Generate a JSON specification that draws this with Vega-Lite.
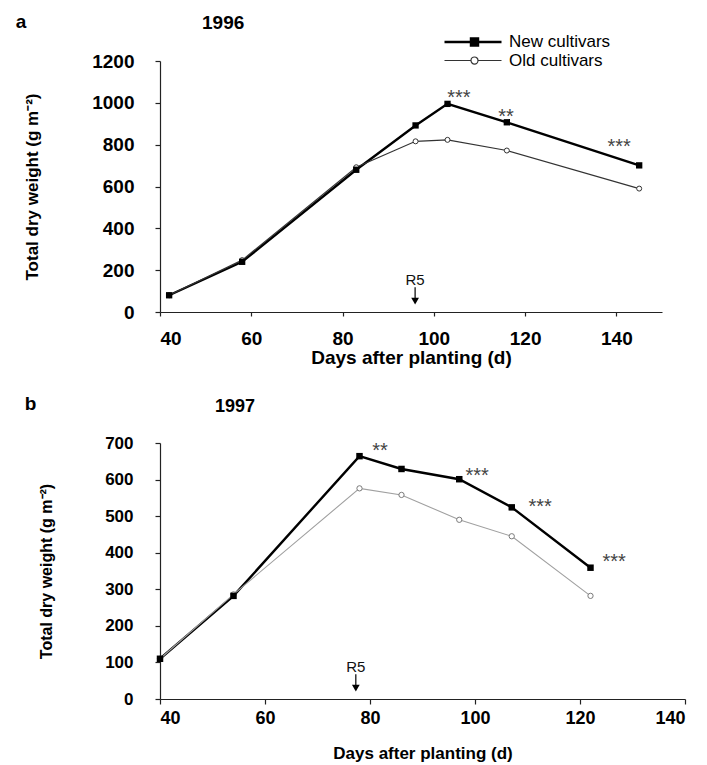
{
  "$schema": "https://vega.github.io/schema/vega-lite/v6.json",
  "padding": {"left": 15, "top": 13, "right": 10, "bottom": 2},
  "spacing": 28,
  "datasets": {
    "a": [
      {"series": "New cultivars", "day": 42, "value": 80},
      {"series": "New cultivars", "day": 58, "value": 240},
      {"series": "New cultivars", "day": 83, "value": 680},
      {"series": "New cultivars", "day": 96, "value": 892},
      {"series": "New cultivars", "day": 103, "value": 995},
      {"series": "New cultivars", "day": 116, "value": 907},
      {"series": "New cultivars", "day": 145, "value": 701},
      {"series": "Old cultivars", "day": 42, "value": 80},
      {"series": "Old cultivars", "day": 58, "value": 248},
      {"series": "Old cultivars", "day": 83, "value": 692},
      {"series": "Old cultivars", "day": 96, "value": 816},
      {"series": "Old cultivars", "day": 103, "value": 823},
      {"series": "Old cultivars", "day": 116, "value": 772},
      {"series": "Old cultivars", "day": 145, "value": 590}
    ],
    "b": [
      {"series": "New cultivars", "day": 40, "value": 110},
      {"series": "New cultivars", "day": 54, "value": 282},
      {"series": "New cultivars", "day": 78, "value": 664},
      {"series": "New cultivars", "day": 86, "value": 629},
      {"series": "New cultivars", "day": 97, "value": 601},
      {"series": "New cultivars", "day": 107, "value": 524},
      {"series": "New cultivars", "day": 122, "value": 359},
      {"series": "Old cultivars", "day": 40, "value": 110},
      {"series": "Old cultivars", "day": 54, "value": 286},
      {"series": "Old cultivars", "day": 78, "value": 576},
      {"series": "Old cultivars", "day": 86, "value": 558},
      {"series": "Old cultivars", "day": 97, "value": 490},
      {"series": "Old cultivars", "day": 107, "value": 445},
      {"series": "Old cultivars", "day": 122, "value": 282}
    ],
    "stars_a": [
      {"day": 105.5, "value": 1045, "label": "***"},
      {"day": 115.8, "value": 955, "label": "**"},
      {"day": 140.6, "value": 812, "label": "***"}
    ],
    "stars_b": [
      {"day": 81.9, "value": 692, "label": "**"},
      {"day": 100.4, "value": 623, "label": "***"},
      {"day": 112.4, "value": 539, "label": "***"},
      {"day": 126.5, "value": 388, "label": "***"}
    ],
    "r5_a": [
      {"part": "rule", "day": 95.9, "value": 118, "value2": 58},
      {"part": "tip", "day": 95.9, "value": 52},
      {"part": "label", "day": 95.9, "value": 152, "label": "R5"}
    ],
    "r5_b": [
      {"part": "rule", "day": 77.3, "value": 68, "value2": 34},
      {"part": "tip", "day": 77.3, "value": 30},
      {"part": "label", "day": 77.3, "value": 87, "label": "R5"}
    ]
  },
  "vconcat": [
    {
      "title": {"text": "a", "anchor": "start", "frame": "bounds", "fontSize": 19, "fontWeight": "bold", "offset": -18, "dx": -8},
      "vconcat": [
        {
          "title": {"text": "1996", "anchor": "start", "frame": "group", "dx": 42, "fontSize": 19, "fontWeight": "bold", "offset": 19},
          "width": 502,
          "height": 251,
          "encoding": {
            "x": {"field": "day", "type": "quantitative", "scale": {"domain": [40, 150], "nice": false, "zero": false},
              "axis": {"values": [40, 60, 80, 100, 120, 140], "title": "Days after planting (d)", "labelFontSize": 19, "titleFontSize": 19, "tickSize": 4, "labelPadding": 13, "titlePadding": 0}},
            "y": {"field": "value", "type": "quantitative", "scale": {"domain": [0, 1200], "nice": false},
              "axis": {"values": [0, 200, 400, 600, 800, 1000, 1200], "format": "d", "title": "Total dry weight (g m⁻²)", "labelFontSize": 19, "titleFontSize": 17, "tickSize": 5, "labelPadding": 21, "titlePadding": 50}}
          },
          "layer": [
            {
              "data": {"name": "a"},
              "mark": {"type": "line"},
              "encoding": {
                "color": {"field": "series", "type": "nominal",
                  "scale": {"domain": ["New cultivars", "Old cultivars"], "range": ["#000000", "#333333"]},
                  "legend": {
                    "title": null, "orient": "none", "legendX": 325, "legendY": -28,
                    "padding": 0, "rowPadding": 0, "labelFont": "Liberation Sans", "labelFontSize": 17,
                    "labelColor": "#000000", "labelOffset": 6, "labelLimit": 300, "symbolSize": 225,
                    "encode": {
                      "symbols": {
                        "update": {
                          "shape": {"signal": "datum.value === 'New cultivars' ? 'M-6.6,0H1M-3.07,-0.47H-2.13V0.47H-3.07Z' : 'M-6.6,0H-3.07M-2.13,0H1M-3.07,0A0.47,0.47 0 1,0 -2.13,0A0.47,0.47 0 1,0 -3.07,0Z'"},
                          "fill": {"signal": "datum.value === 'New cultivars' ? '#000000' : '#ffffff'"},
                          "stroke": {"signal": "datum.value === 'New cultivars' ? '#000000' : '#333333'"},
                          "strokeWidth": {"signal": "datum.value === 'New cultivars' ? 2.6 : 1.3"},
                          "opacity": {"value": 1}
                        }
                      }
                    }
                  }},
                "strokeWidth": {"field": "series", "type": "ordinal", "scale": {"domain": ["New cultivars", "Old cultivars"], "range": [2.4, 1.2]}, "legend": null}
              }
            },
            {
              "data": {"name": "a"},
              "transform": [{"filter": "datum.series === 'Old cultivars'"}],
              "mark": {"type": "point", "shape": "circle", "filled": true, "fill": "#ffffff", "stroke": "#333333", "strokeWidth": 1, "size": 25, "opacity": 1}
            },
            {
              "data": {"name": "a"},
              "transform": [{"filter": "datum.series === 'New cultivars'"}],
              "mark": {"type": "point", "shape": "square", "filled": true, "color": "#000000", "size": 40, "opacity": 1}
            },
            {
              "data": {"name": "stars_a"},
              "mark": {"type": "text", "font": "Liberation Sans", "fontSize": 20, "color": "#444444", "baseline": "alphabetic", "dy": 11},
              "encoding": {"text": {"field": "label"}}
            },
            {
              "data": {"name": "r5_a"},
              "transform": [{"filter": "datum.part === 'rule'"}],
              "mark": {"type": "rule", "color": "#000000", "strokeWidth": 1.2},
              "encoding": {"y2": {"field": "value2"}}
            },
            {
              "data": {"name": "r5_a"},
              "transform": [{"filter": "datum.part === 'tip'"}],
              "mark": {"type": "point", "shape": "triangle-down", "filled": true, "color": "#000000", "size": 60, "opacity": 1}
            },
            {
              "data": {"name": "r5_a"},
              "transform": [{"filter": "datum.part === 'label'"}],
              "mark": {"type": "text", "font": "Liberation Sans", "fontSize": 15, "color": "#111111", "baseline": "middle"},
              "encoding": {"text": {"field": "label"}}
            }
          ]
        }
      ]
    },
    {
      "title": {"text": "b", "anchor": "start", "frame": "bounds", "fontSize": 19, "fontWeight": "bold", "offset": -16, "dx": -14},
      "vconcat": [
        {
          "title": {"text": "1997", "anchor": "start", "frame": "group", "dx": 55, "fontSize": 18, "fontWeight": "bold", "offset": 18},
          "width": 525,
          "height": 256,
          "encoding": {
            "x": {"field": "day", "type": "quantitative", "scale": {"domain": [40, 140], "nice": false, "zero": false},
              "axis": {"values": [40, 60, 80, 100, 120, 140], "title": "Days after planting (d)", "labelFontSize": 18, "titleFontSize": 17, "tickSize": 5, "labelPadding": 5, "titlePadding": 18}},
            "y": {"field": "value", "type": "quantitative", "scale": {"domain": [0, 700], "nice": false},
              "axis": {"values": [0, 100, 200, 300, 400, 500, 600, 700], "title": "Total dry weight (g m⁻²)", "labelFontSize": 17, "titleFontSize": 16, "tickSize": 5, "labelPadding": 22, "titlePadding": 50}}
          },
          "layer": [
            {
              "data": {"name": "b"},
              "mark": {"type": "line"},
              "encoding": {
                "color": {"field": "series", "type": "nominal", "scale": {"domain": ["New cultivars", "Old cultivars"], "range": ["#000000", "#a0a0a0"]}, "legend": null},
                "strokeWidth": {"field": "series", "type": "ordinal", "scale": {"domain": ["New cultivars", "Old cultivars"], "range": [2.4, 1.1]}, "legend": null}
              }
            },
            {
              "data": {"name": "b"},
              "transform": [{"filter": "datum.series === 'Old cultivars'"}],
              "mark": {"type": "point", "shape": "circle", "filled": true, "fill": "#ffffff", "stroke": "#7a7a7a", "strokeWidth": 1, "size": 28, "opacity": 1}
            },
            {
              "data": {"name": "b"},
              "transform": [{"filter": "datum.series === 'New cultivars'"}],
              "mark": {"type": "point", "shape": "square", "filled": true, "color": "#000000", "size": 42, "opacity": 1}
            },
            {
              "data": {"name": "stars_b"},
              "mark": {"type": "text", "font": "Liberation Sans", "fontSize": 20, "color": "#444444", "baseline": "alphabetic", "dy": 11},
              "encoding": {"text": {"field": "label"}}
            },
            {
              "data": {"name": "r5_b"},
              "transform": [{"filter": "datum.part === 'rule'"}],
              "mark": {"type": "rule", "color": "#000000", "strokeWidth": 1.2},
              "encoding": {"y2": {"field": "value2"}}
            },
            {
              "data": {"name": "r5_b"},
              "transform": [{"filter": "datum.part === 'tip'"}],
              "mark": {"type": "point", "shape": "triangle-down", "filled": true, "color": "#000000", "size": 60, "opacity": 1}
            },
            {
              "data": {"name": "r5_b"},
              "transform": [{"filter": "datum.part === 'label'"}],
              "mark": {"type": "text", "font": "Liberation Sans", "fontSize": 15, "color": "#111111", "baseline": "middle"},
              "encoding": {"text": {"field": "label"}}
            }
          ]
        }
      ]
    }
  ],
  "resolve": {"scale": {"color": "independent", "strokeWidth": "independent", "x": "independent", "y": "independent"}, "legend": {"color": "independent"}},
  "config": {
    "font": "Liberation Sans",
    "view": {"stroke": null},
    "title": {"font": "Liberation Sans", "color": "#000000"},
    "axis": {"grid": false, "domainColor": "#222222", "tickColor": "#222222", "labelFont": "Liberation Sans", "titleFont": "Liberation Sans", "labelFontWeight": "bold", "titleFontWeight": "bold", "labelColor": "#000000", "titleColor": "#000000", "domainWidth": 1.2, "tickWidth": 1.2}
  }
}
